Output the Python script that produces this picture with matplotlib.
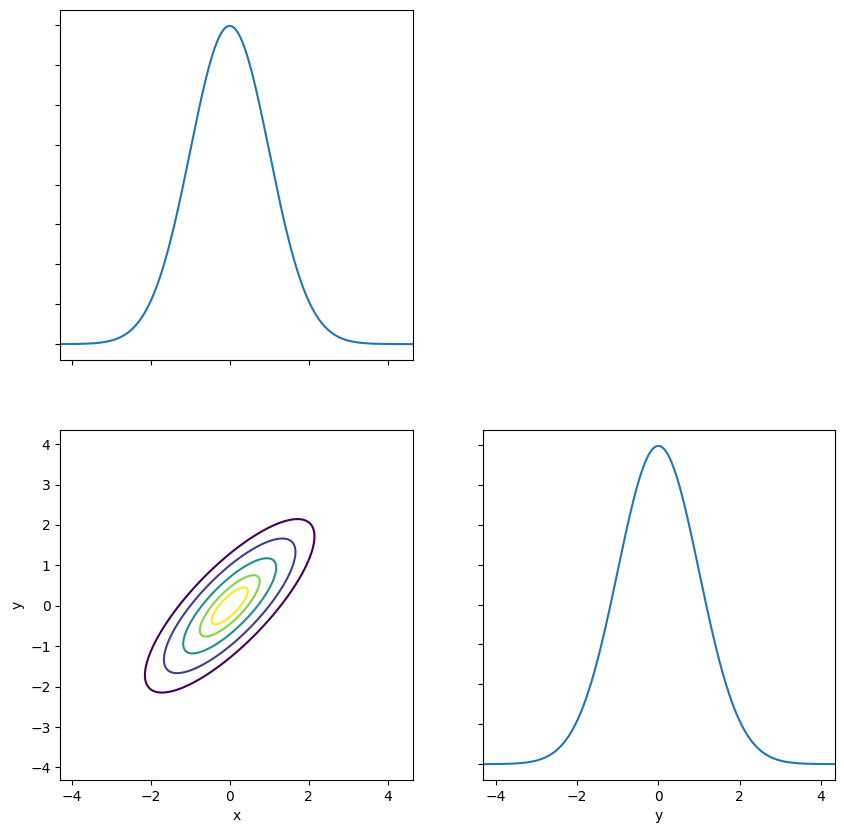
import numpy as np
import matplotlib
matplotlib.use("Agg")
import matplotlib.pyplot as plt

# distribucion normal bivariada (parametros)
media = [0.0, 0.0]
sigma = [1.0, 1.0]
rho = 0.8

# rango de la malla (limites de los ejes)
x_rango = [-4.29, 4.63]
y_rango = [-4.31, 4.35]

# fraccion de masa encerrada por cada contorno
masa = [0.9, 0.75, 0.5, 0.25, 0.1]


def normal_1d(t, m, s):
    return np.exp(-0.5 * ((t - m) / s) ** 2) / (s * np.sqrt(2 * np.pi))


def main():
    x = np.linspace(x_rango[0], x_rango[1], 300)
    y = np.linspace(y_rango[0], y_rango[1], 300)
    X, Y = np.meshgrid(x, y)

    zx = (X - media[0]) / sigma[0]
    zy = (Y - media[1]) / sigma[1]
    q = (zx**2 - 2 * rho * zx * zy + zy**2) / (1 - rho**2)
    norm = 1.0 / (2 * np.pi * sigma[0] * sigma[1] * np.sqrt(1 - rho**2))
    Z = norm * np.exp(-0.5 * q)

    niveles = sorted(norm * (1 - np.array(masa)))

    fig = plt.figure(figsize=(8.44, 8.33), dpi=100)
    gs = fig.add_gridspec(2, 2, left=0.0714, right=0.9897,
                          bottom=0.0636, top=0.988, wspace=0.2, hspace=0.2)
    ax_c = fig.add_subplot(gs[1, 0])
    ax_x = fig.add_subplot(gs[0, 0], sharex=ax_c)
    ax_y = fig.add_subplot(gs[1, 1])

    # contornos
    ax_c.contour(X, Y, Z, levels=niveles, cmap="viridis")
    ax_c.set_xlabel("x")
    ax_c.set_ylabel("y")

    # marginal en x
    ax_x.plot(x, normal_1d(x, media[0], sigma[0]))
    ax_x.tick_params(labelbottom=False, labelleft=False)

    # marginal en y
    ax_y.plot(y, normal_1d(y, media[1], sigma[1]))
    ax_y.set_xlim(y_rango)
    ax_y.set_xlabel("y")
    ax_y.tick_params(labelleft=False)

    fig.savefig("out.png", dpi=100)


if __name__ == "__main__":
    main()
